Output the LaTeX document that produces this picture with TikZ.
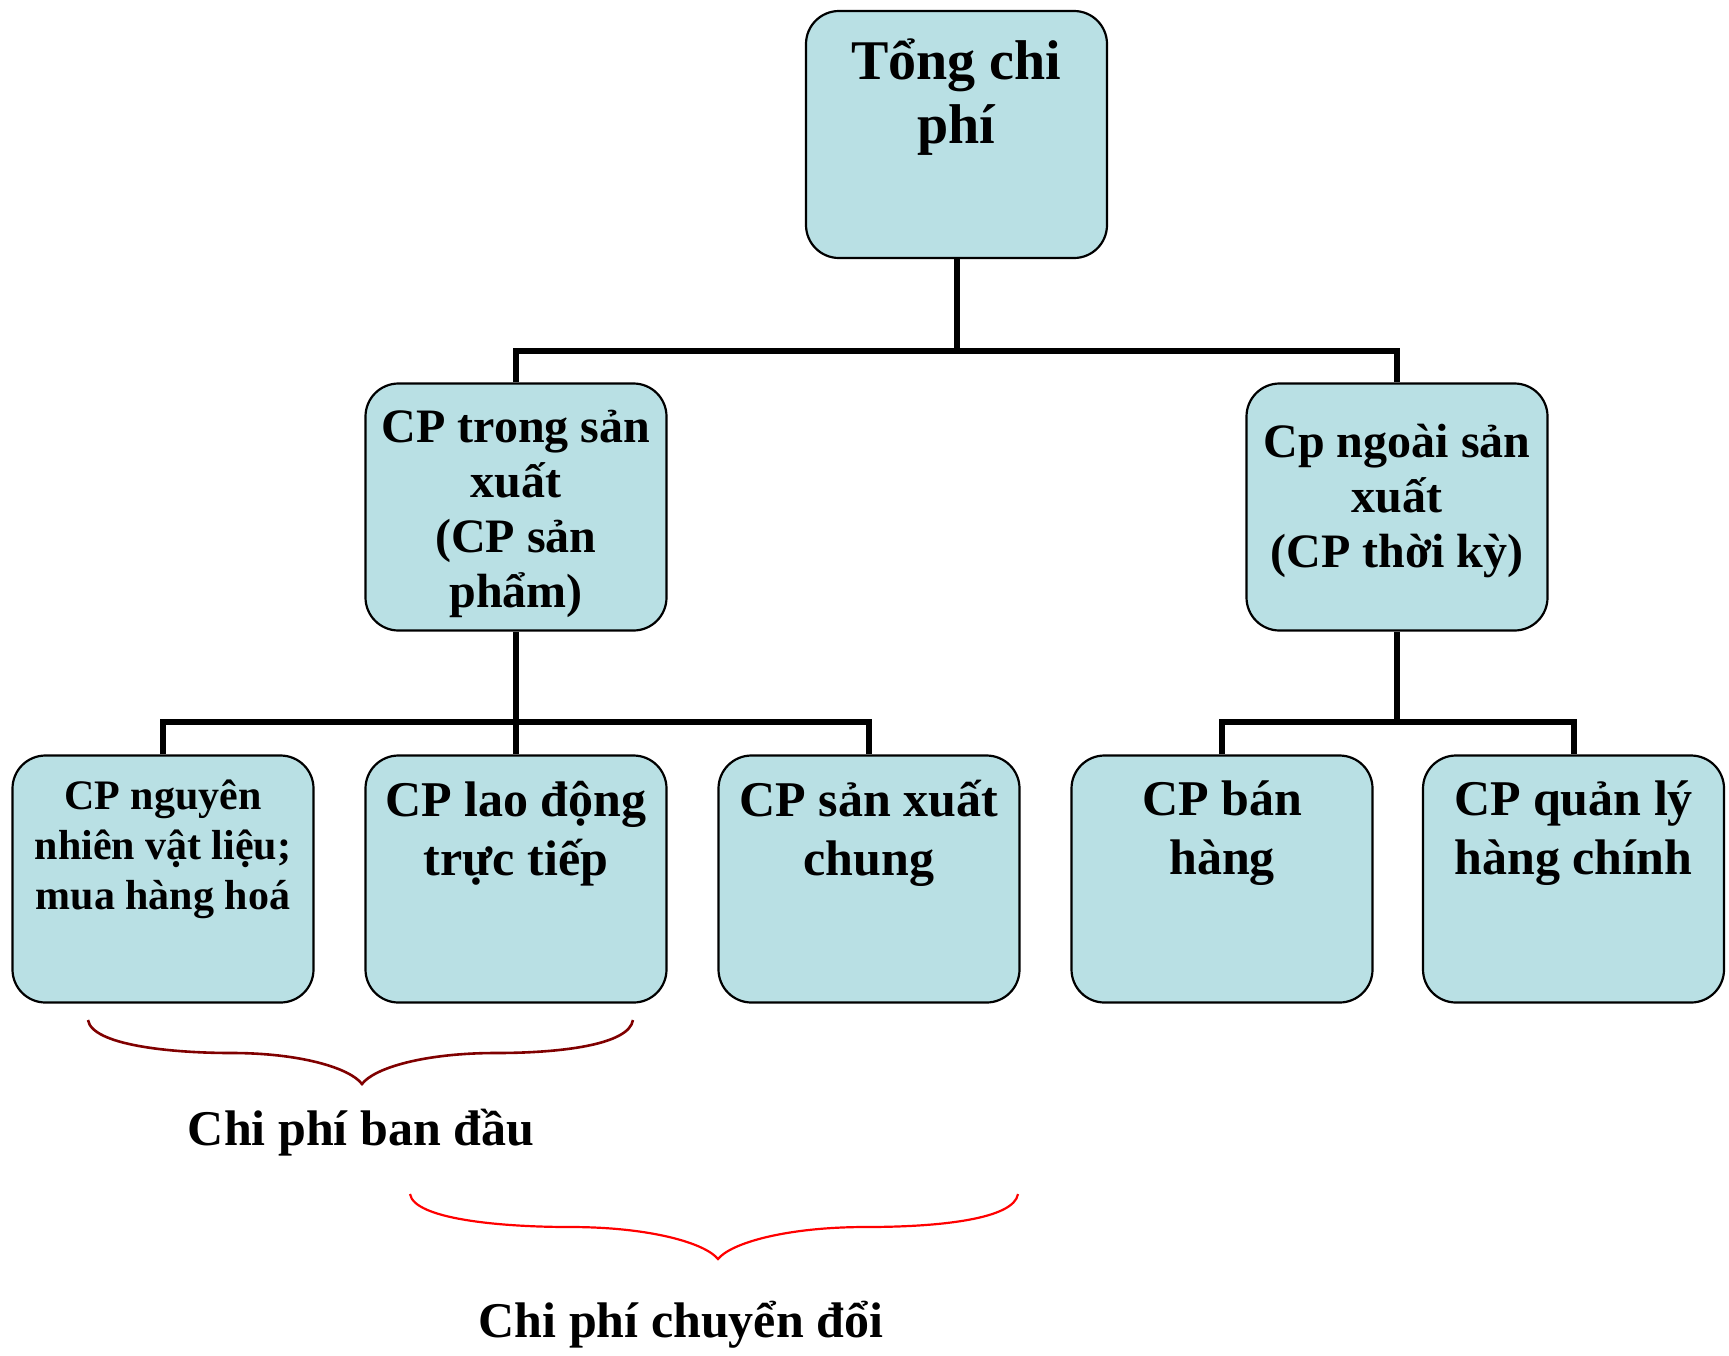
\documentclass[tikz,border=0pt]{standalone}
\usepackage{fontspec}
\setmainfont{Liberation Serif}
\definecolor{boxfill}{RGB}{185,224,228}
\definecolor{darkbrace}{RGB}{128,0,0}
\definecolor{redbrace}{RGB}{255,0,0}
\begin{document}
\begin{tikzpicture}[x=1pt,y=-1pt,
  box/.style={draw=black, line width=2.2pt, fill=boxfill, rounded corners=33pt,
    minimum width=301pt, minimum height=247pt, inner sep=0pt},
  txt/.style={align=center, inner sep=0pt, font=\bfseries\fontsize{48}{55}\selectfont},
  txtbig/.style={align=center, inner sep=0pt, font=\bfseries\fontsize{56}{64}\selectfont},
  txtrow/.style={align=center, inner sep=0pt, font=\bfseries\fontsize{50}{59}\selectfont},
  txtsmall/.style={align=center, inner sep=0pt, font=\bfseries\fontsize{42}{50}\selectfont},
  conn/.style={draw=black, line width=6pt},
  bracedark/.style={draw=darkbrace, line width=2.6pt},
  bracered/.style={draw=redbrace, line width=2.2pt}]
\useasboundingbox (0,0) rectangle (1729,1355);

% boxes
\node[box] (top) at (956.5,134.5) {};
\node[box] (l2) at (516,507) {};
\node[box] (r2) at (1397,507) {};
\node[box] (b1) at (163,879) {};
\node[box] (b2) at (516,879) {};
\node[box] (b3) at (869,879) {};
\node[box] (b4) at (1222,879) {};
\node[box] (b5) at (1573.5,879) {};

% texts
\node[txtbig] (ttop) at (956.5,97) {Tổng chi\\phí};
\node[txt] (tl2) at (516,514) {CP trong sản\\xuất\\(CP sản\\phẩm)};
\node[txt] (tr2) at (1397,500.5) {Cp ngoài sản\\xuất\\(CP thời kỳ)};
\node[txtsmall] (tb1) at (163,849) {CP nguyên\\nhiên vật liệu;\\mua hàng hoá};
\node[txtrow] (tb2) at (516,833.5) {CP lao động\\trực tiếp};
\node[txtrow] (tb3) at (869,833.5) {CP sản xuất\\chung};
\node[txtrow] (tb4) at (1222,833.5) {CP bán\\hàng};
\node[txtrow] (tb5) at (1573.5,833.5) {CP quản lý\\hàng chính};

% connectors
\coordinate (bus1) at (0,351);
\coordinate (bus2) at (0,722);
\draw[conn] (top.south) -- (top.south |- bus1);
\draw[conn] (l2.north) |- (r2.north |- bus1) -- (r2.north);
\draw[conn] (l2.south) -- (b2.north);
\draw[conn] (b1.north) |- (b3.north |- bus2) -- (b3.north);
\draw[conn] (r2.south) -- (r2.south |- bus2);
\draw[conn] (b4.north) |- (b5.north |- bus2) -- (b5.north);

% braces
\coordinate (br1l) at (88,1020);
\coordinate (br1t) at (362,1084);
\coordinate (br1r) at (633,1020);
\draw[bracedark] (br1l) .. controls (92,1045) and (170,1053) .. (232,1053)
  .. controls (300,1053) and (350,1068) .. (br1t)
  .. controls (374,1068) and (424,1053) .. (496,1053)
  .. controls (560,1053) and (629,1045) .. (br1r);
\coordinate (br2l) at (410,1194);
\coordinate (br2t) at (718,1259);
\coordinate (br2r) at (1018,1194);
\draw[bracered] (br2l) .. controls (414,1219) and (500,1227) .. (570,1227)
  .. controls (650,1227) and (705,1243) .. (br2t)
  .. controls (731,1243) and (786,1227) .. (866,1227)
  .. controls (940,1227) and (1014,1219) .. (br2r);

\node[txtrow] (lab1) at (361,1132.5) {Chi phí ban đầu};
\node[txtrow] (lab2) at (681,1324.5) {Chi phí chuyển đổi};
\end{tikzpicture}
\end{document}
